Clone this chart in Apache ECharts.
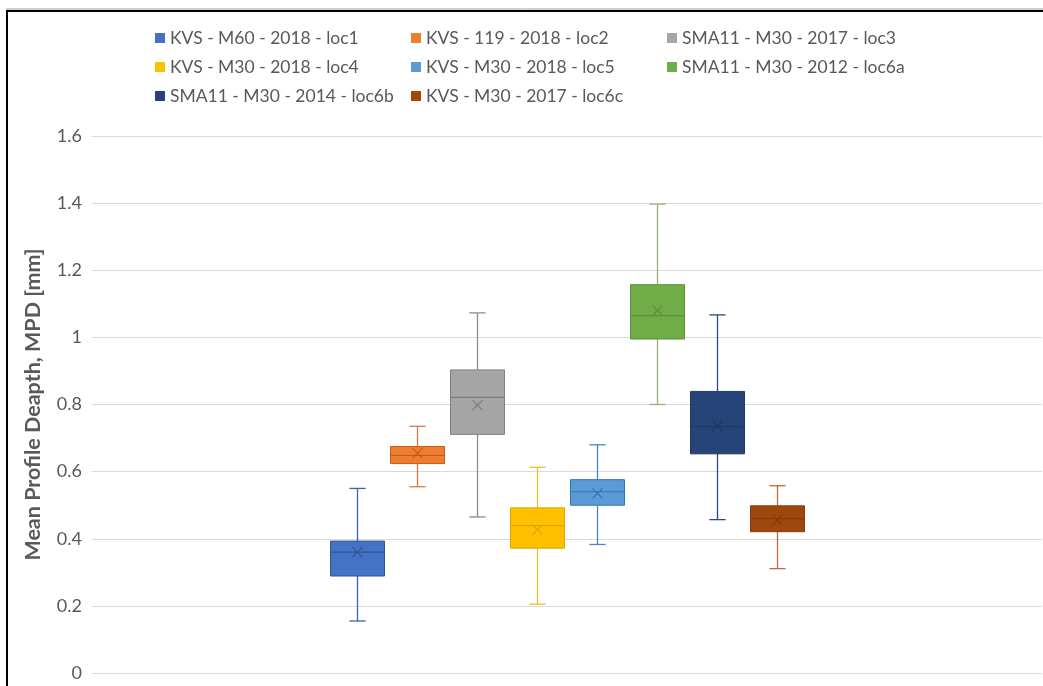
<!DOCTYPE html>
<html>
<head>
<meta charset="utf-8">
<script src="https://cdn.jsdelivr.net/npm/echarts@6/dist/echarts.min.js"></script>
<style>
html,body{margin:0;padding:0;background:#fff;}
#chart{width:1043px;height:686px;}
</style>
</head>
<body>
<div id="chart"></div>
<script>
// ---- data ----
const seriesNames = [
  'KVS - M60 - 2018 - loc1',
  'KVS - 119 - 2018 - loc2',
  'SMA11 - M30 - 2017 - loc3',
  'KVS - M30 - 2018 - loc4',
  'KVS - M30 - 2018 - loc5',
  'SMA11 - M30 - 2012 - loc6a',
  'SMA11 - M30 - 2014 - loc6b',
  'KVS - M30 - 2017 - loc6c'
];
const mins    = [0.155, 0.555, 0.465, 0.205, 0.383, 0.800, 0.457, 0.311];
const q1s     = [0.289, 0.624, 0.711, 0.372, 0.500, 0.995, 0.653, 0.421];
const medians = [0.360, 0.648, 0.821, 0.439, 0.540, 1.065, 0.734, 0.460];
const q3s     = [0.393, 0.675, 0.903, 0.492, 0.576, 1.157, 0.839, 0.498];
const maxs    = [0.550, 0.735, 1.073, 0.613, 0.680, 1.397, 1.067, 0.558];
const means   = [0.360, 0.655, 0.798, 0.427, 0.535, 1.080, 0.736, 0.456];
const yTicks  = [0, 0.2, 0.4, 0.6, 0.8, 1, 1.2, 1.4, 1.6];

// ---- styles ----
const fillColors = ['#4472C4', '#ED7D31', '#A5A5A5', '#FFC000', '#5B9BD5', '#70AD47', '#264478', '#9E480E'];
const lineColors = ['#2F5597', '#C55A11', '#7F7F7F', '#D9A800', '#2E75B6', '#5E8F3C', '#1F3864', '#843C0C'];
const whiskerColors = ['#3A62AE', '#D77A45', '#8C8C8C', '#E8BE30', '#4A86C0', '#96B47A', '#2A4A80', '#C06A3A'];

const chart = echarts.init(document.getElementById('chart'), null, {renderer: 'canvas'});

function makeRender(i) {
  return function (params, api) {
    const x = api.value(0);
    const pMin = api.coord([x, api.value(1)]);
    const pQ1 = api.coord([x, api.value(2)]);
    const pMed = api.coord([x, api.value(3)]);
    const pQ3 = api.coord([x, api.value(4)]);
    const pMax = api.coord([x, api.value(5)]);
    const pMean = api.coord([x, api.value(6)]);
    const halfW = api.size([0.9, 0])[0] / 2;
    const capHalf = api.size([0.27, 0])[0] / 2;
    const cx = Math.round(pMed[0]) + 0.5;
    const mk = 5;
    const wStyle = {stroke: whiskerColors[i], lineWidth: 1.3, fill: null};
    const lStyle = {stroke: lineColors[i], lineWidth: 1.2, fill: null};
    return {
      type: 'group',
      children: [
        {type: 'line', shape: {x1: cx, y1: pMax[1], x2: cx, y2: pQ3[1]}, style: wStyle},
        {type: 'line', shape: {x1: cx, y1: pQ1[1], x2: cx, y2: pMin[1]}, style: wStyle},
        {type: 'line', shape: {x1: cx - capHalf, y1: pMax[1], x2: cx + capHalf, y2: pMax[1]}, style: wStyle},
        {type: 'line', shape: {x1: cx - capHalf, y1: pMin[1], x2: cx + capHalf, y2: pMin[1]}, style: wStyle},
        {type: 'rect', shape: {x: cx - halfW, y: pQ3[1], width: halfW * 2, height: pQ1[1] - pQ3[1]},
          style: {fill: fillColors[i], stroke: lineColors[i], lineWidth: 1}},
        {type: 'line', shape: {x1: cx - halfW, y1: pMed[1], x2: cx + halfW, y2: pMed[1]}, style: lStyle},
        {type: 'line', shape: {x1: cx - mk, y1: pMean[1] - mk, x2: cx + mk, y2: pMean[1] + mk}, style: lStyle},
        {type: 'line', shape: {x1: cx - mk, y1: pMean[1] + mk, x2: cx + mk, y2: pMean[1] - mk}, style: lStyle}
      ]
    };
  };
}

const series = seriesNames.map(function (name, i) {
  return {
    name: name,
    type: 'custom',
    itemStyle: {color: fillColors[i]},
    renderItem: makeRender(i),
    encode: {x: 0, y: [1, 2, 3, 4, 5, 6]},
    data: [[i, mins[i], q1s[i], medians[i], q3s[i], maxs[i], means[i]]]
  };
});

const font = 'Lato, "Open Sans", sans-serif';

chart.setOption({
  backgroundColor: '#fff',
  animation: false,
  textStyle: {fontFamily: font},
  legend: {
    left: 150,
    top: 23,
    width: 800,
    icon: 'rect',
    itemWidth: 10,
    itemHeight: 10,
    itemGap: 9,
    data: seriesNames,
    textStyle: {
      fontFamily: font,
      fontSize: 17.5,
      color: '#595959',
      width: 232,
      lineHeight: 20,
      overflow: 'none'
    }
  },
  grid: {left: 92, right: 1, top: 136, bottom: 13, containLabel: false},
  xAxis: {
    type: 'value',
    min: -4.4167,
    max: 11.4167,
    show: false
  },
  yAxis: {
    type: 'value',
    min: yTicks[0],
    max: yTicks[yTicks.length - 1],
    interval: 0.2,
    name: 'Mean Profile Deapth, MPD [mm]',
    nameLocation: 'middle',
    nameGap: 48,
    nameTextStyle: {fontFamily: font, fontSize: 21.5, fontWeight: 'bold', color: '#595959'},
    axisLine: {show: false},
    axisTick: {show: false},
    axisLabel: {
      margin: 10,
      fontFamily: font,
      fontSize: 18,
      color: '#595959',
      formatter: function (v) {
        const t = yTicks.find(function (k) { return Math.abs(k - v) < 1e-9; });
        return String(t !== undefined ? t : v);
      }
    },
    splitLine: {show: true, lineStyle: {color: '#D9D9D9', width: 1}}
  },
  graphic: [
    {type: 'line', shape: {x1: 6, y1: 9, x2: 1043, y2: 9}, style: {stroke: '#A0A0A0', lineWidth: 1}, silent: true},
    {type: 'rect', shape: {x: 6, y: 10, width: 1037, height: 2}, style: {fill: '#000'}, silent: true},
    {type: 'rect', shape: {x: 6, y: 10, width: 2, height: 676}, style: {fill: '#000'}, silent: true}
  ],
  series: series
});
</script>
</body>
</html>
